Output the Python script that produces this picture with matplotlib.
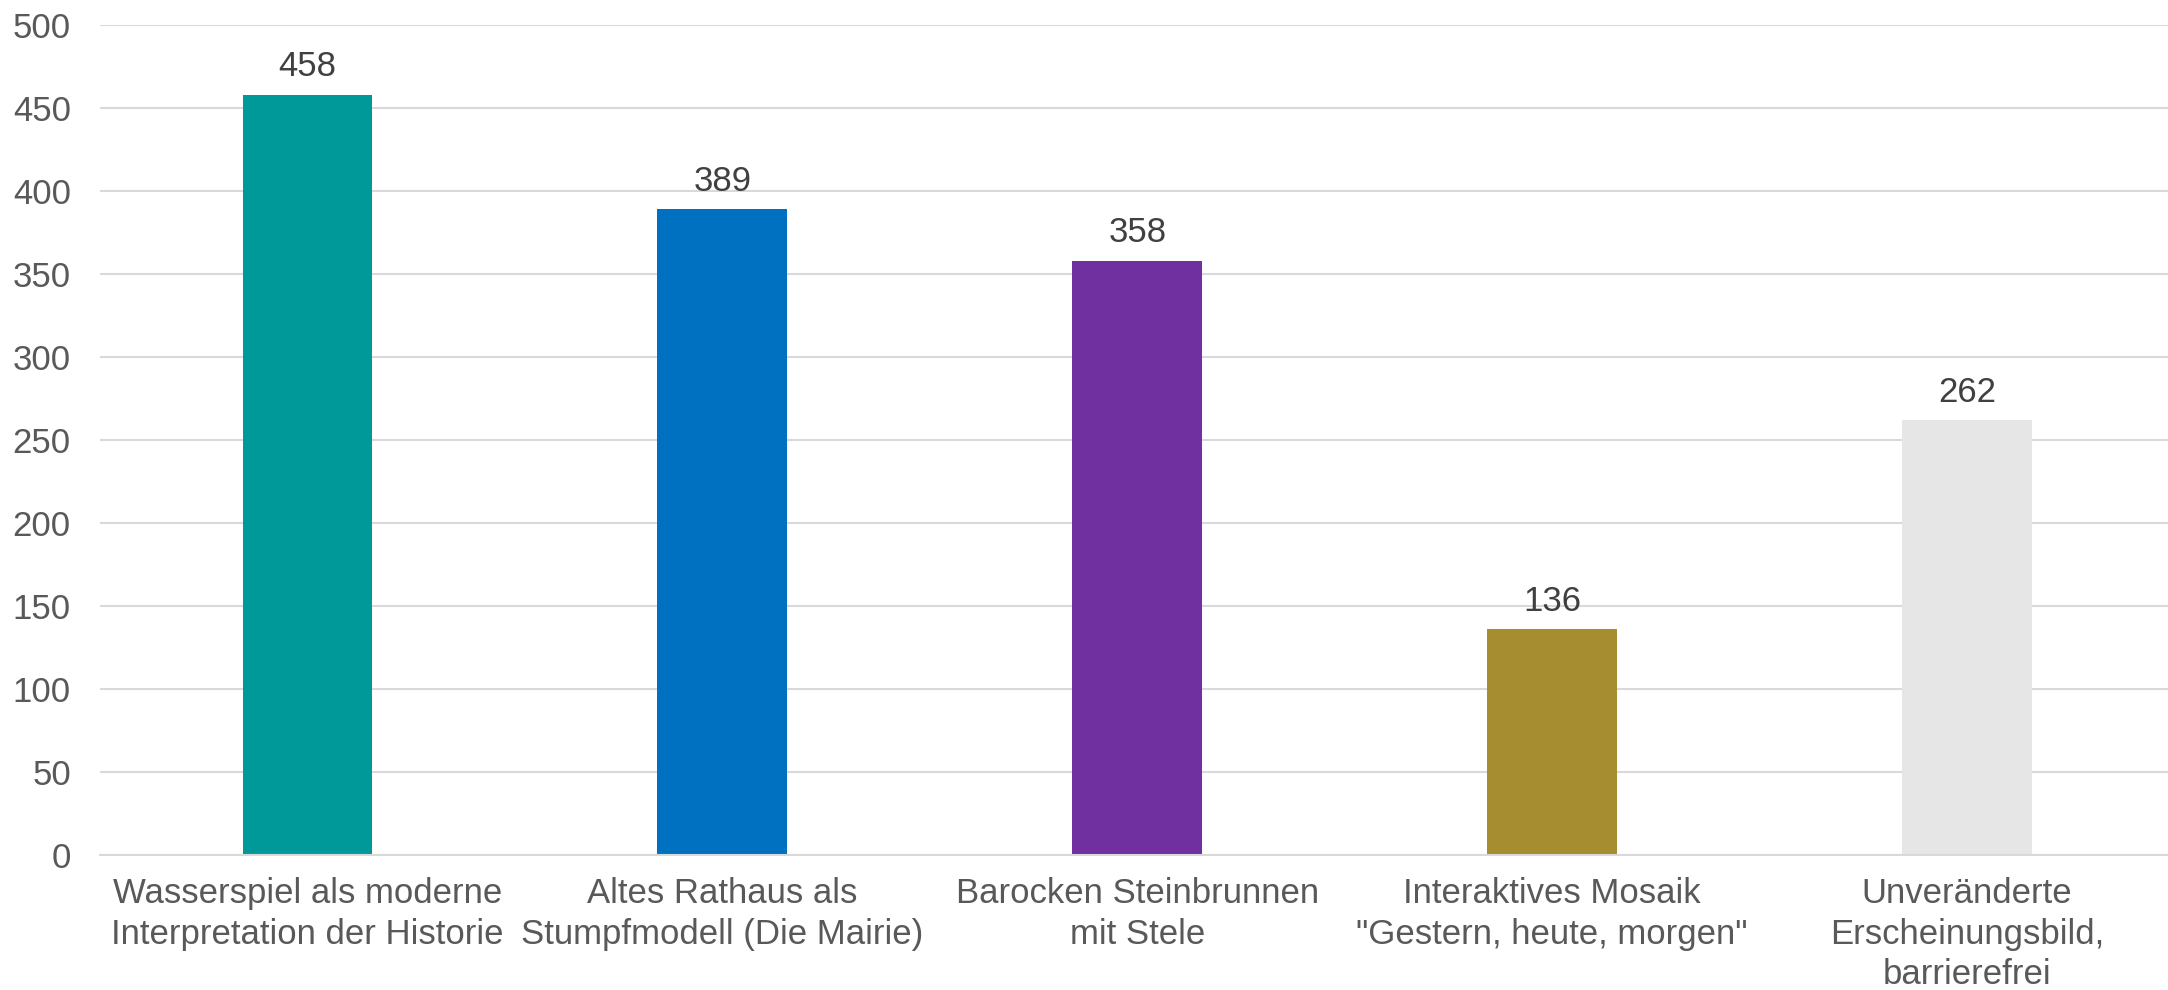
import matplotlib
matplotlib.use("Agg")
import matplotlib.pyplot as plt

categories = [
    "Wasserspiel als moderne\nInterpretation der Historie",
    "Altes Rathaus als\nStumpfmodell (Die Mairie)",
    "Barocken Steinbrunnen\nmit Stele",
    "Interaktives Mosaik\n\"Gestern, heute, morgen\"",
    "Unveränderte\nErscheinungsbild,\nbarrierefrei",
]
values = [458, 389, 358, 136, 262]
colors = ["#009999", "#0070C0", "#7030A0", "#A68D2F", "#E6E6E6"]
yticks = [0, 50, 100, 150, 200, 250, 300, 350, 400, 450, 500]

plt.rcParams['font.family'] = ['Liberation Sans', 'DejaVu Sans']

W, H = 2168, 990
fig = plt.figure(figsize=(W / 100, H / 100), dpi=100)
left, right, bottom, top = 100, 2168, 854.5, 24.9
ax = fig.add_axes([left / W, (H - bottom) / H, (right - left) / W, (bottom - top) / H])

x = list(range(len(categories)))
bars = ax.bar(x, values, width=0.313, color=colors, zorder=3, linewidth=0)

ax.set_ylim(0, 500)
ax.set_xlim(-0.5, 4.484)
ax.set_yticks(yticks)
ax.set_xticks(x)
ax.set_xticklabels(categories, fontsize=25, color="#595959", linespacing=1.3)
ax.tick_params(axis='y', length=0, pad=21, labelsize=25, labelcolor="#595959")
ax.tick_params(axis='x', length=0, pad=16)
ax.yaxis.grid(True, color="#D9D9D9", linewidth=1.5, zorder=0)
ax.set_axisbelow(True)
for s in ["top", "right", "left"]:
    ax.spines[s].set_visible(False)
ax.spines["bottom"].set_color("#D9D9D9")
ax.spines["bottom"].set_linewidth(1.5)
ax.spines["bottom"].set_zorder(4)

for xi, v in zip(x, values):
    ax.annotate(str(v), (xi, v), xytext=(0, 8), textcoords="offset points",
                ha="center", va="bottom", fontsize=25, color="#404040")

fig.savefig("out.png", dpi=100)
